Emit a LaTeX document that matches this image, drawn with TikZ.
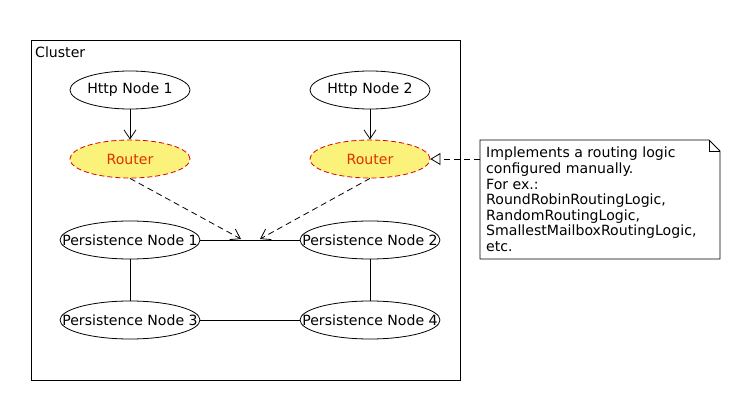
\documentclass[tikz,border=0pt]{standalone}
\usepackage{fontspec}
\setmainfont{DejaVu Sans}
\usetikzlibrary{arrows.meta,shapes.geometric}
\definecolor{routerfill}{HTML}{FAF27A}
\definecolor{routertext}{HTML}{E03000}
\newcommand{\zw}[1]{\makebox[0pt]{#1}}
\begin{document}
\begin{tikzpicture}[x=1pt,y=-1pt,
  every node/.style={font=\fontsize{14.1}{15.6}\selectfont},
  usecase/.style={draw, ellipse, line width=0.8pt, minimum width=120pt, minimum height=38pt, inner sep=0pt},
  pnode/.style={usecase, minimum width=140pt},
  router/.style={usecase, fill=routerfill, draw=red!85!black, dash pattern=on 5pt off 3pt, text=routertext},
  solidarrow/.style={line width=0.8pt, -{Straight Barb[length=9pt,width=12pt]}},
  dasharrow/.style={line width=0.8pt, dash pattern=on 6pt off 4pt, -{Straight Barb[length=9pt,width=12pt]}},
  link/.style={line width=0.8pt}
]
\useasboundingbox (0,0) rectangle (740,420);
% cluster
\draw[line width=0.8pt] (31,40) rectangle (460,380);
\node[anchor=base west, inner sep=0pt] (cl) at (35,58) {Cluster};
% nodes
\node[usecase] (h1) at (130,90) {\zw{Http Node 1}};
\node[usecase] (h2) at (370,90) {\zw{Http Node 2}};
\node[router] (r1) at (130,159) {\zw{Router}};
\node[router] (r2) at (370,159) {\zw{Router}};
\node[pnode] (p1) at (130,240) {\zw{Persistence Node 1}};
\node[pnode] (p2) at (370,240) {\zw{Persistence Node 2}};
\node[pnode] (p3) at (130,320) {\zw{Persistence Node 3}};
\node[pnode] (p4) at (370,320) {\zw{Persistence Node 4}};
\coordinate (t1) at (241,239);
\coordinate (t2) at (260,239);
% edges
\draw[solidarrow] (h1) -- (r1);
\draw[solidarrow] (h2) -- (r2);
\draw[link] (p1) -- (p2);
\draw[link] (p1) -- (p3);
\draw[link] (p2) -- (p4);
\draw[link] (p3) -- (p4);
\draw[dasharrow] (r1.south) -- (t1);
\draw[dasharrow] (r2.south) -- (t2);
% note
\draw[line width=0.8pt, fill=white] (480,140) -- (709,140) -- (720,151) -- (720,259) -- (480,259) -- cycle;
\draw[line width=0.8pt] (709,140) -- (709,151) -- (720,151);
\node[anchor=north west, align=left, inner sep=0pt] (note) at (486,147)
  {Implements a routing logic\\configured manually.\\For ex.:\\RoundRobinRoutingLogic,\\RandomRoutingLogic,\\SmallestMailboxRoutingLogic,\\etc.};
\coordinate (nl) at (480,159);
\draw[line width=0.8pt, dash pattern=on 6pt off 4pt, -{Triangle[open,length=10pt,width=12pt]}] (nl) -- (r2.east);
\end{tikzpicture}
\end{document}
